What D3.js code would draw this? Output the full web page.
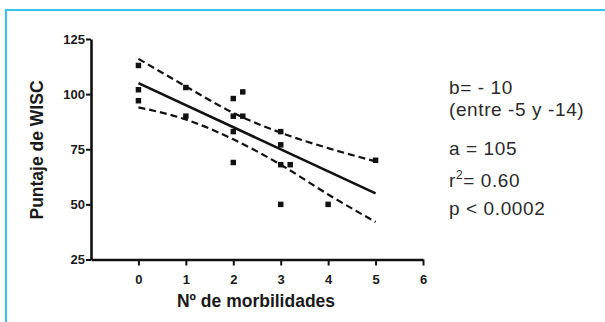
<!DOCTYPE html>
<html>
<head>
<meta charset="utf-8">
<script src="https://cdn.jsdelivr.net/npm/d3@7"></script>
<style>
  body { margin: 0; background: #fff; }
  svg { display: block; font-family: "Liberation Sans", Arial, sans-serif; }
</style>
</head>
<body>
<svg id="chart"></svg>
<script>
// 数据：Nº de morbilidades vs Puntaje de WISC
const morbilidades = [0, 0, 0, 1, 1, 2, 2.2, 2, 2.2, 2, 2, 3, 3, 3, 3.2, 3, 4, 5];
const puntajes = [113, 102, 97, 103, 90, 98, 101, 90, 90, 83, 69, 83, 77, 68, 68, 50, 50, 70];

// 回归线与置信带
const fitX = [0, 5];
const fitY = [105, 55];
const bandX = [0, 1, 2, 3, 4, 5];
const upperY = [116, 103.5, 91.5, 82.5, 75.5, 69.5];
const lowerY = [94, 88.5, 79.5, 68, 54.5, 42];

const xTicks = [0, 1, 2, 3, 4, 5, 6];
const yTicks = [25, 50, 75, 100, 125];

const statLines = ["b= - 10", "(entre -5 y -14)", "a = 105", "r2", "p < 0.0002"];

const svgWidth = 605, svgHeight = 322;
const svg = d3.select("#chart").attr("width", svgWidth).attr("height", svgHeight);

// 蓝色边框
svg.append("path")
  .attr("d", "M6,322 V10 H605")
  .attr("fill", "none")
  .attr("stroke", "#36c4f4")
  .attr("stroke-width", 2);

// 比例尺
const x = d3.scaleLinear().domain([-1, 6]).range([91, 423]);
const y = d3.scaleLinear().domain([25, 125]).range([259.5, 39]);

// 坐标轴
const xAxis = svg.append("g")
  .attr("transform", `translate(0,${y(25)})`)
  .call(d3.axisBottom(x).tickValues(xTicks).tickFormat(d3.format("d"))
    .tickSize(6).tickSizeOuter(0).tickPadding(9));

const yAxis = svg.append("g")
  .attr("transform", `translate(${x(-1)},0)`)
  .call(d3.axisLeft(y).tickValues(yTicks).tickSize(5).tickSizeOuter(0).tickPadding(1));

[xAxis, yAxis].forEach(g => {
  g.select(".domain").attr("stroke", "#111").attr("stroke-width", 2.6);
  g.selectAll(".tick line").attr("stroke", "#111").attr("stroke-width", 2);
  g.selectAll(".tick text")
    .attr("fill", "#1a1a1a")
    .style("font-size", "13px")
    .style("font-weight", "bold");
});

// 轴标题
svg.append("text")
  .attr("x", 256).attr("y", 307)
  .attr("text-anchor", "middle")
  .attr("fill", "#1a1a1a")
  .style("font-size", "17.5px").style("font-weight", "bold")
  .text("Nº de morbilidades");

svg.append("text")
  .attr("transform", "translate(43,150) rotate(-90)")
  .attr("text-anchor", "middle")
  .attr("fill", "#1a1a1a")
  .style("font-size", "17.5px").style("font-weight", "bold")
  .text("Puntaje de WISC");

// 线条
const line = d3.line().x(d => x(d[0])).y(d => y(d[1]));
const curve = d3.line().x(d => x(d[0])).y(d => y(d[1])).curve(d3.curveMonotoneX);

svg.append("path")
  .datum(bandX.map((v, i) => [v, upperY[i]]))
  .attr("d", curve)
  .attr("fill", "none").attr("stroke", "#111")
  .attr("stroke-width", 2.2).attr("stroke-dasharray", "7 4");

svg.append("path")
  .datum(bandX.map((v, i) => [v, lowerY[i]]))
  .attr("d", curve)
  .attr("fill", "none").attr("stroke", "#111")
  .attr("stroke-width", 2.2).attr("stroke-dasharray", "7 4");

svg.append("path")
  .datum(fitX.map((v, i) => [v, fitY[i]]))
  .attr("d", line)
  .attr("fill", "none").attr("stroke", "#111")
  .attr("stroke-width", 2.6);

// 数据点
svg.selectAll(".pt")
  .data(morbilidades.map((v, i) => [v, puntajes[i]]))
  .enter()
  .append("path")
  .attr("class", "pt")
  .attr("transform", d => `translate(${x(d[0])},${y(d[1])})`)
  .attr("d", d3.symbol().type(d3.symbolSquare).size(30))
  .attr("fill", "#111");

// 统计文字
const statY = [94, 116, 155, 187, 215];
const statG = svg.append("g").attr("fill", "#2a2a2a")
  .style("font-size", "19px").style("letter-spacing", "0.6px");
statLines.forEach((s, i) => {
  const t = statG.append("text").attr("x", 449).attr("y", statY[i]);
  if (s === "r2") {
    t.append("tspan").text("r");
    t.append("tspan").attr("dy", -8).style("font-size", "12px").text("2");
    t.append("tspan").attr("dy", 8).text("= 0.60");
  } else {
    t.text(s);
  }
});
</script>
</body>
</html>
